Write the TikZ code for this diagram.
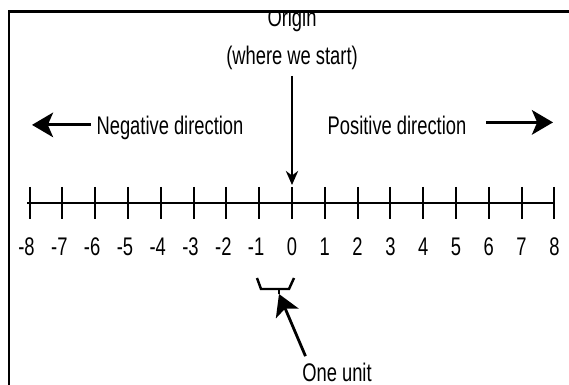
\documentclass[tikz,border=0pt]{standalone}
\usepackage{fontspec}
\setsansfont[FakeStretch=0.72]{Liberation Sans}
\usetikzlibrary{arrows.meta,positioning}
\tikzset{framerule/.style={line width=1.7pt,black}, numline/.style={line width=1.6pt,black}, tickmark/.style={line width=1.1pt,black}, note/.style={font=\fontsize{14.5}{17}\selectfont\sffamily,inner sep=1pt}, ticklabel/.style={font=\fontsize{14.5}{17}\selectfont\sffamily,inner sep=0pt}, pointer/.style={line width=1.6pt,-{Stealth[length=12pt,width=14pt,inset=3pt]}}, downpointer/.style={line width=1.1pt,-{Stealth[length=8pt,width=7pt]}}, bracket/.style={line width=1.4pt,line join=miter}}

\begin{document}
\begin{tikzpicture}[x=0.02cm,y=-0.02cm]
\useasboundingbox (0,0) rectangle (569,385);
% frame, cut at right and bottom
\draw[framerule] (9,385) -- (9,11.7) -- (569,11.7);
\begin{scope}
\clip (10,12.8) rectangle (569,385);
\node[note,anchor=base] (origin) at (292,27) {Origin};
\end{scope}
\node[note,anchor=base] (start) at (292,65) {(where we start)};
% number line
\draw[numline] (27,203) -- (555,203);
\foreach \n [count=\i] in {-8,...,8} {
  \draw[tickmark] ({292+32.8*\n},187) -- ({292+32.8*\n},219);
  \ifnum\n<0
    \node[ticklabel] (lab\i) at ({292+32.8*\n},246.5) {\llap{-}\the\numexpr-\n\relax};
  \else
    \node[ticklabel] (lab\i) at ({292+32.8*\n},246.5) {\n};
  \fi
}
\coordinate (zero) at (292,185);
\draw[downpointer] ([yshift=-2pt]start.south) -- (zero);
% directions
\node[note,anchor=base] (neg) at (170,135) {Negative direction};
\node[note,anchor=base] (pos) at (397,135) {Positive direction};
\coordinate (negtip) at (32,125);
\coordinate (postip) at (553,125);
\draw[pointer] ([xshift=-2pt,yshift=2pt]neg.west) -- ([yshift=2pt]neg.west -| negtip);
\draw[pointer] ([xshift=10pt,yshift=2pt]pos.east) -- ([yshift=2pt]pos.east -| postip);
% one unit
\draw[bracket] (257,278) -- (261,289) -- (289,289) -- (294,278);
\draw[bracket] (279,289) -- (279,294) coordinate (unittip);
\node[note,anchor=base] (unit) at (337,382) {One unit};
\draw[pointer] ([xshift=3pt,yshift=3pt]unit.north west) -- (unittip);
\end{tikzpicture}
\end{document}
